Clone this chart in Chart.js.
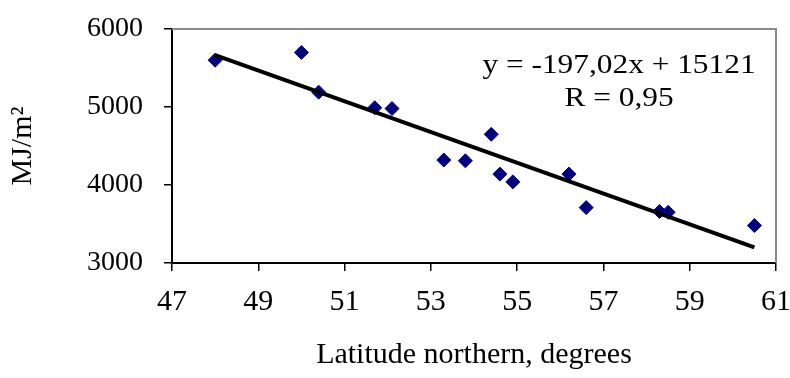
<!DOCTYPE html>
<html>
<head>
<meta charset="utf-8">
<script src="https://cdn.jsdelivr.net/npm/chart.js@4.4.1/dist/chart.umd.min.js"></script>
<style>
  html, body { margin: 0; padding: 0; background: #ffffff; }
  #wrap { width: 790px; height: 378px; }
</style>
</head>
<body>
<div id="wrap"><canvas id="c" width="790" height="378"></canvas></div>
<script>
// Data
const latitudes = [48.0, 50.0, 50.4, 51.7, 52.1, 53.3, 53.8, 54.4, 54.6, 54.9, 56.2, 56.6, 58.3, 58.5, 60.5];
const radiation = [5600, 5700, 5190, 4990, 4980, 4320, 4310, 4650, 4140, 4040, 4140, 3710, 3660, 3650, 3480];
// Linear trend shown on the chart: y = -197,02x + 15121
const trendSlope = -197.02;
const trendIntercept = 15121;
const trendRange = [48.0, 60.5];
const equationLines = ['y = -197,02x + 15121', 'R = 0,95'];
const xTicks = [47, 49, 51, 53, 55, 57, 59, 61];
const yTicks = [3000, 4000, 5000, 6000];
const xTitle = 'Latitude northern, degrees';
const yTitle = 'MJ/m\u00B2';

const FONT = '"Liberation Serif", "Times New Roman", serif';

const scatterPoints = latitudes.map((x, i) => ({ x: x, y: radiation[i] }));
const trendPoints = trendRange.map(x => ({ x: x, y: trendSlope * x + trendIntercept }));

const framePlugin = {
  id: 'frame',
  beforeDatasetsDraw(chart) {
    const { ctx, chartArea: a } = chart;
    ctx.save();
    ctx.strokeStyle = '#8a8a8a';
    ctx.lineWidth = 2;
    ctx.beginPath();
    ctx.moveTo(a.left, a.top);
    ctx.lineTo(a.right, a.top);
    ctx.lineTo(a.right, a.bottom);
    ctx.stroke();
    ctx.restore();
  },
  afterDraw(chart) {
    const { ctx } = chart;
    ctx.save();
    ctx.fillStyle = '#000000';
    ctx.font = '28px ' + FONT;
    ctx.textAlign = 'center';
    ctx.textBaseline = 'alphabetic';
    const pos = [[619, 73], [619, 106]];
    equationLines.forEach((t, i) => {
      ctx.save();
      ctx.translate(pos[i][0], pos[i][1]);
      ctx.scale(1.12, 1);
      ctx.fillText(t, 0, 0);
      ctx.restore();
    });
    ctx.restore();
  }
};

new Chart(document.getElementById('c'), {
  type: 'scatter',
  data: {
    datasets: [
      {
        type: 'line',
        label: 'trend',
        data: trendPoints,
        borderColor: '#000000',
        borderWidth: 4,
        pointRadius: 0,
        fill: false,
        order: 0
      },
      {
        label: 'data',
        data: scatterPoints,
        pointStyle: 'rectRot',
        pointRadius: 7,
        pointBackgroundColor: '#000080',
        pointBorderColor: '#000080',
        pointBorderWidth: 1,
        order: 1
      }
    ]
  },
  options: {
    responsive: false,
    animation: false,
    devicePixelRatio: 1,
    layout: { padding: { left: 0, right: 14, top: 29, bottom: 0 } },
    plugins: { legend: { display: false }, tooltip: { enabled: false } },
    scales: {
      x: {
        type: 'linear',
        min: xTicks[0],
        max: xTicks[xTicks.length - 1],
        afterBuildTicks(scale) { scale.ticks = xTicks.map(v => ({ value: v })); },
        afterFit(scale) {
          scale.height = 115;
          scale.paddingLeft = 0; scale.paddingRight = 0;
        },
        ticks: {
          color: '#000000',
          font: { family: FONT, size: 30 },
          padding: 13,
          maxRotation: 0,
          autoSkip: false,
          callback: v => String(v)
        },
        grid: { display: true, drawOnChartArea: false, drawTicks: true, tickLength: 8, color: '#000000', lineWidth: 1.5 },
        border: { display: true, color: '#000000', width: 2 },
        title: {
          display: true,
          text: xTitle,
          color: '#000000',
          font: { family: FONT, size: 30 },
          padding: { top: 0, bottom: 5 }
        }
      },
      y: {
        type: 'linear',
        min: yTicks[0],
        max: yTicks[yTicks.length - 1],
        afterBuildTicks(scale) { scale.ticks = yTicks.map(v => ({ value: v })); },
        afterFit(scale) {
          scale.width = 172;
          scale.paddingTop = 0; scale.paddingBottom = 0;
        },
        ticks: {
          color: '#000000',
          font: { family: FONT, size: 28 },
          padding: 21,
          autoSkip: false,
          callback: v => String(v)
        },
        grid: { display: true, drawOnChartArea: false, drawTicks: true, tickLength: 8, color: '#000000', lineWidth: 1.5 },
        border: { display: true, color: '#000000', width: 2 },
        title: {
          display: true,
          text: yTitle,
          color: '#000000',
          font: { family: FONT, size: 30 },
          padding: { top: 5, bottom: 0 }
        }
      }
    }
  },
  plugins: [framePlugin]
});
</script>
</body>
</html>
